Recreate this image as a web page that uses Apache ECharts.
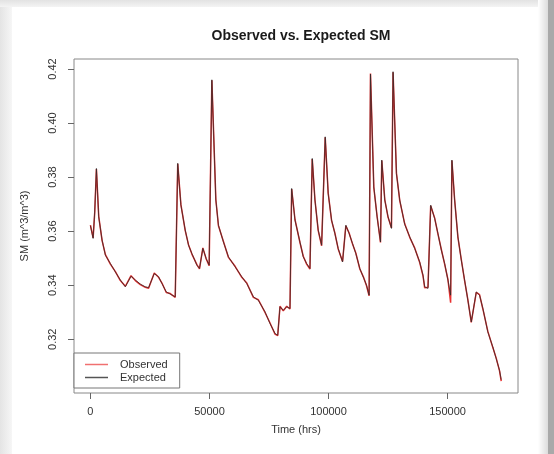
<!DOCTYPE html>
<html>
<head>
<meta charset="utf-8">
<script src="https://cdn.jsdelivr.net/npm/echarts@6/dist/echarts.min.js"></script>
<style>
html,body{margin:0;padding:0;background:#fff;}
#chart{width:554px;height:454px;}
</style>
</head>
<body>
<div id="chart"></div>
<script>
const chartTitle = "Observed vs. Expected SM";
const xName = "Time (hrs)";
const yName = "SM (m^3/m^3)";
const seriesNames = ["Observed", "Expected"];
const xTicks = [0, 50000, 100000, 150000];
const yTicks = [0.32, 0.34, 0.36, 0.38, 0.40, 0.42];

const timeHrs = [0,1130,1800,2515,3480,4900,6290,8380,10480,12570,
14670,15380,17060,18860,20960,23050,24430,26820,28630,30050,
31850,33530,35620,36340,36670,38010,39820,41200,42620,44720,
45810,47230,48620,49870,51010,52680,53770,55870,57960,60770,
63580,65670,68440,70540,73340,75440,77540,78670,79630,81010,
82440,83820,84530,85920,88010,89400,90820,92210,93170,94300,
95680,97110,97530,98620,99870,101300,102680,104070,105910,107290,
108670,110100,111480,113160,114840,115970,117060,117640,119030,120410,
121840,122380,123640,125020,126450,127120,128540,129930,132020,134120,
136210,138310,139690,140400,141790,142920,144590,145980,147400,148790,
150170,151300,151840,152980,154360,155780,157170,158550,159970,160650,
162070,163450,164840,166930,169030,170450,171840,172550];

const observed = [0.3622,0.3575,0.3668,0.3830,0.3655,0.3565,0.3513,0.3478,0.3450,0.3417,
0.3396,0.3390,0.3435,0.3417,0.3402,0.3392,0.3389,0.3445,0.3429,0.3408,
0.3373,0.3369,0.3355,0.3358,0.3849,0.3698,0.3602,0.3550,0.3515,0.3476,
0.3460,0.3538,0.3497,0.3472,0.4158,0.3717,0.3620,0.3562,0.3503,0.3470,
0.3429,0.3408,0.3355,0.3346,0.3299,0.3260,0.3219,0.3213,0.3322,0.3305,
0.3322,0.3312,0.3756,0.3643,0.3558,0.3507,0.3478,0.3460,0.3867,0.3717,
0.3602,0.3546,0.3540,0.3947,0.3741,0.3639,0.3593,0.3534,0.3488,0.3620,
0.3593,0.3552,0.3519,0.3460,0.3427,0.3398,0.3361,0.4183,0.3762,0.3655,
0.3558,0.3861,0.3717,0.3651,0.3612,0.4188,0.3815,0.3713,0.3627,0.3577,
0.3538,0.3484,0.3435,0.3390,0.3392,0.3694,0.3649,0.3589,0.3532,0.3478,
0.3421,0.3335,0.3861,0.3717,0.3577,0.3495,0.3417,0.3346,0.3262,0.3266,
0.3373,0.3365,0.3312,0.3229,0.3169,0.3130,0.3083,0.3045];

const expected = [0.3620,0.3573,0.3671,0.3832,0.3653,0.3567,0.3511,0.3480,0.3449,0.3419,
0.3394,0.3394,0.3433,0.3419,0.3404,0.3394,0.3391,0.3443,0.3431,0.3406,
0.3375,0.3367,0.3357,0.3360,0.3851,0.3696,0.3604,0.3548,0.3517,0.3474,
0.3462,0.3536,0.3499,0.3474,0.4160,0.3715,0.3622,0.3560,0.3505,0.3468,
0.3431,0.3406,0.3357,0.3344,0.3301,0.3258,0.3221,0.3215,0.3320,0.3307,
0.3320,0.3314,0.3758,0.3641,0.3560,0.3505,0.3480,0.3462,0.3869,0.3715,
0.3604,0.3548,0.3542,0.3949,0.3739,0.3641,0.3591,0.3536,0.3486,0.3622,
0.3591,0.3554,0.3517,0.3462,0.3425,0.3400,0.3363,0.4181,0.3764,0.3653,
0.3560,0.3863,0.3715,0.3653,0.3610,0.4190,0.3813,0.3715,0.3625,0.3579,
0.3536,0.3486,0.3437,0.3394,0.3388,0.3696,0.3647,0.3591,0.3530,0.3480,
0.3419,0.3363,0.3863,0.3715,0.3579,0.3493,0.3419,0.3344,0.3264,0.3264,
0.3375,0.3363,0.3314,0.3227,0.3171,0.3128,0.3085,0.3050];

const FONT = "'Liberation Sans', Arial, Helvetica, sans-serif";
const chart = echarts.init(document.getElementById('chart'), null, {renderer: 'canvas'});

const pairs = (vals) => timeHrs.map((t, i) => [t, vals[i]]);

chart.setOption({
  animation: false,
  backgroundColor: '#ffffff',
  textStyle: {fontFamily: FONT},
  graphic: [
    {type: 'rect', z: -10, shape: {x: 0, y: 0, width: 12, height: 454},
     style: {fill: new echarts.graphic.LinearGradient(0, 0, 1, 0, [{offset: 0, color: '#e4e4e4'}, {offset: 1, color: '#f6f6f6'}])}},
    {type: 'rect', z: -10, shape: {x: 0, y: 0, width: 554, height: 7},
     style: {fill: new echarts.graphic.LinearGradient(0, 0, 0, 1, [{offset: 0, color: '#e2e2e2'}, {offset: 1, color: '#f4f4f4'}])}},
    {type: 'rect', z: -10, shape: {x: 538, y: 0, width: 10, height: 454},
     style: {fill: new echarts.graphic.LinearGradient(0, 0, 1, 0, [{offset: 0, color: '#ffffff'}, {offset: 1, color: '#dcdcdc'}])}},
    {type: 'rect', z: -10, shape: {x: 548, y: 0, width: 6, height: 454},
     style: {fill: '#a9a9a9'}}
  ],
  title: {
    text: chartTitle,
    left: 296,
    top: 24,
    textAlign: 'center',
    textStyle: {fontFamily: FONT, fontSize: 14, fontWeight: 'bold', color: '#1a1a1a'}
  },
  legend: {
    left: 74,
    top: 353,
    orient: 'vertical',
    padding: [6, 12, 5, 11],
    itemGap: 2,
    itemWidth: 23,
    itemHeight: 1.5,
    borderColor: '#777',
    borderWidth: 1,
    backgroundColor: '#fff',
    textStyle: {fontFamily: FONT, fontSize: 11, color: '#333', padding: [0, 0, 0, 7]},
    data: [
      {name: seriesNames[0], icon: 'rect', itemStyle: {color: '#f07070'}},
      {name: seriesNames[1], icon: 'rect', itemStyle: {color: '#555'}}
    ]
  },
  grid: {
    left: 74, right: 36, top: 59, bottom: 61,
    show: true, borderColor: '#888', borderWidth: 1, backgroundColor: 'transparent'
  },
  xAxis: {
    type: 'value',
    min: -6900,
    max: 179600,
    name: xName,
    nameLocation: 'middle',
    nameGap: 31,
    nameTextStyle: {fontFamily: FONT, fontSize: 11, color: '#333'},
    splitLine: {show: false},
    axisLine: {show: false, onZero: false},
    axisTick: {show: true, customValues: xTicks, length: 6, lineStyle: {color: '#666'}},
    axisLabel: {customValues: xTicks, formatter: (v) => String(v), margin: 13, fontSize: 11, color: '#333', fontFamily: FONT}
  },
  yAxis: {
    type: 'value',
    min: 0.3001,
    max: 0.4237,
    name: yName,
    nameLocation: 'middle',
    nameGap: 44,
    nameRotate: 90,
    nameTextStyle: {fontFamily: FONT, fontSize: 11, color: '#333'},
    splitLine: {show: false},
    axisLine: {show: false, onZero: false},
    axisTick: {show: true, customValues: yTicks, length: 6, lineStyle: {color: '#666'}},
    axisLabel: {customValues: yTicks, rotate: 90, formatter: (v) => v.toFixed(2), margin: 16, fontSize: 11, color: '#333', fontFamily: FONT}
  },
  series: [
    {
      name: seriesNames[0], type: 'line', data: pairs(observed),
      showSymbol: false, symbol: 'none',
      lineStyle: {color: '#e83030', width: 1.5},
      itemStyle: {color: '#e83030'},
      z: 2
    },
    {
      name: seriesNames[1], type: 'line', data: pairs(expected),
      showSymbol: false, symbol: 'none',
      lineStyle: {color: '#2a2a2a', width: 0.9, opacity: 0.85},
      itemStyle: {color: '#2a2a2a'},
      z: 3
    }
  ]
});
</script>
</body>
</html>
